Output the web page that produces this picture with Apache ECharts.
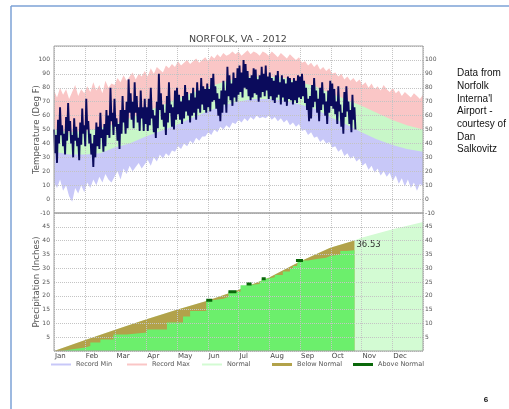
<!DOCTYPE html>
<html><head><meta charset="utf-8">
<script src="https://cdn.jsdelivr.net/npm/echarts@6/dist/echarts.min.js"></script>
<style>html,body{margin:0;padding:0;background:#fff}#c{width:509px;height:409px}</style>
</head><body><div id="c"></div>
<script>
// ---------------- DATA ----------------
const monthLabels = ['Jan','Feb','Mar','Apr','May','Jun','Jul','Aug','Sep','Oct','Nov','Dec'];

// Observed temperature trace (every 2nd day: high on that day, low on the next), deg F
const tempDayStep = 2;
const tempHigh = [
 50,46,57,66,53,47,59,69,56,46,58,52,44,55,65,53,
 72,56,47,40,46,55,52,62,50,54,64,60,80,62,
 72,58,54,64,74,64,70,86,76,70,84,74,66,78,66,72,
 66,72,80,64,60,70,90,76,68,62,74,84,68,66,78,
 80,75,70,74,82,77,71,76,80,73,84,78,87,81,79,
 83,79,87,90,81,76,72,78,85,78,95,89,83,91,87,
 94,96,91,100,97,92,87,89,94,93,86,89,95,90,96,88,
 91,87,85,89,92,84,89,86,83,88,87,84,87,85,89,
 88,90,85,80,72,74,82,87,78,72,80,84,76,70,78,
 85,83,79,70,81,68,62,77,81,70,64,75,66
];
const tempLow = [
 33,26,40,46,38,32,42,49,40,30,42,38,28,39,47,38,
 50,40,32,23,30,38,36,44,34,38,46,44,56,46,
 52,42,36,47,55,47,51,62,57,51,62,55,49,58,49,54,
 49,53,58,48,44,51,64,57,52,46,55,62,52,50,57,
 61,57,54,58,63,60,55,60,62,57,65,62,68,64,62,
 66,63,70,71,65,60,56,62,68,62,74,71,67,73,70,
 75,77,73,80,79,74,71,73,76,75,70,73,77,74,78,72,
 74,71,69,73,75,68,73,70,67,72,71,68,71,69,73,
 72,74,69,64,56,58,66,70,62,56,64,68,60,54,62,
 67,65,61,54,63,52,47,59,63,54,48,57,50
];

// Record high / low through the year (evenly spaced samples), deg F
const recordHigh = [
 78,73,80,75,79,72,77,82,74,79,
 76,81,77,84,78,82,76,85,80,83,
 82,87,84,89,85,88,91,86,90,88,
 92,88,94,90,95,93,91,96,94,97,
 95,99,96,98,100,97,99,101,98,100,
 102,99,103,101,104,102,105,103,104,106,
 104,106,103,105,107,104,106,105,103,106,
 105,103,106,104,102,105,103,101,104,102,
 100,102,98,99,96,98,95,97,93,95,
 92,94,90,91,88,90,86,88,85,87,
 84,86,82,84,80,83,79,81,78,82,
 79,77,80,76,78,74,77,75,73,76,74,72,75
];
const recordLow = [
 12,8,14,6,10,2,-2,8,4,10,
 5,12,8,14,10,16,12,18,14,12,
 16,20,14,22,18,24,20,23,26,22,
 25,28,24,30,27,32,29,33,31,35,
 34,38,36,40,38,42,40,44,42,45,
 45,48,46,50,48,52,50,53,51,55,
 54,57,55,58,56,59,57,60,58,59,
 58,60,57,59,56,58,55,57,53,55,
 52,54,49,50,46,48,44,45,41,43,
 40,41,37,38,34,36,31,33,29,31,
 27,29,24,26,21,24,19,22,17,20,
 16,19,13,17,11,15,9,14,8,12,6,11,9
];

// Normal high / low (day of year)
const normalTempDays = [0,15,31,46,60,75,91,106,121,136,152,167,182,197,213,228,244,259,274,289,305,320,335,350,366];
const normalHigh = [50,48,49,51,54,58,63,67,72,76,80,84,87,88,88,87,84,81,76,72,67,62,57,53,50];
const normalLow  = [34,32,32,33,37,40,45,49,53,58,63,67,70,72,72,71,68,65,59,54,48,43,39,36,34];

// Normal cumulative precipitation (inches)
const precipNormalDays = [0,31,60,91,121,152,182,213,244,274,298,305,335,366];
const precipNormal = [0,4.0,7.6,11.4,14.9,18.2,22.0,26.5,32.4,37.4,40.0,41.0,44.0,46.7];

// Observed cumulative precipitation 2012 (inches)
const precipDays = [0,6,12,18,24,31,36,46,59,72,92,112,128,135,151,157,168,173,185,191,204,206,211,219,227,234,237,241,242,252,262,270,274,284,290,298];
const precipActual = [0,0.3,0.6,0.9,1.3,1.8,3.1,4.2,6.0,6.7,7.8,10.3,12.5,14.5,18.4,18.9,19.6,21.5,23.8,24.3,25.3,26.2,26.7,27.5,28.8,29.8,30.8,31.5,32.8,33.4,33.8,34.4,35.0,36.2,36.53,36.53];

// Periods above normal: [start day, end day, inches]
const aboveNormal = [[151,157,18.4],[173,181,21.5],[191,196,24.3],[206,210,26.2],[240,247,32.8]];

const yearDays = 366;
const dataEndDay = 298;

// ---------------- BUILD ----------------
const tempPoints = [];
tempHigh.forEach((h, i) => {
  tempPoints.push([i * tempDayStep, h]);
  tempPoints.push([i * tempDayStep + 1, tempLow[i]]);
});
const recStep = yearDays / (recordHigh.length - 1);
const recHiPts = recordHigh.map((v, i) => [i * recStep, v]);
const recLoPts = recordLow.map((v, i) => [i * recStep, v]);
const nHiPts = normalHigh.map((v, i) => [normalTempDays[i], v]);
const nLoPts = normalLow.map((v, i) => [normalTempDays[i], v]);
const pNormPts = precipNormal.map((v, i) => [precipNormalDays[i], v]);
const pBelowPts = pNormPts.filter(p => p[0] <= dataEndDay);
const pActPts = precipActual.map((v, i) => [precipDays[i], v]);
const abovePts = [];
aboveNormal.forEach(s => { abovePts.push([s[0], s[2]], [s[1], s[2]], [null, null]); });

const C = {
  pink: '#fac6c6', green: '#c8f7c8', blue: '#c8c8f8', navy: '#0b0b5c',
  pale: '#d3fbd3', bright: '#6cef6c', olive: '#b2a24a', dark: '#0a680a'
};
const FONT = 'DejaVu Sans';
const gridLine = {show: true, lineStyle: {type: 'dotted', color: '#c4c4c4', width: 1}};

function areaSeries(name, data, color, xi, yi, extra) {
  return Object.assign({
    name, type: 'line', data, xAxisIndex: xi, yAxisIndex: yi,
    showSymbol: false, symbol: 'none', silent: true, animation: false,
    color, lineStyle: {width: 0, opacity: 0},
    areaStyle: {color, opacity: 1, origin: 'start'}
  }, extra || {});
}

const chart = echarts.init(document.getElementById('c'));
const legendNames = ['Record Min', 'Record Max', 'Normal', 'Below Normal', 'Above Normal'];
const legendColors = [C.blue, C.pink, C.pale, C.olive, C.dark];
const legendLeft = [51, 127, 202, 272, 353];
const legendThick = [2, 2, 2, 3, 3];

chart.setOption({
  animation: false,
  backgroundColor: '#fff',
  title: {
    text: 'NORFOLK, VA - 2012', left: 189, top: 35, padding: 0,
    textStyle: {fontSize: 9.5, fontWeight: 'normal', color: '#444', fontFamily: FONT}
  },
  grid: [
    {left: 54, right: 86, top: 46, height: 167, show: true, borderColor: '#a0a0a0', borderWidth: 1, z: 13},
    {left: 54, right: 86, top: 213, height: 138, show: true, borderColor: '#a0a0a0', borderWidth: 1, z: 13}
  ],
  xAxis: [
    {gridIndex: 0, type: 'value', min: 0, max: yearDays, interval: 30.5, z: 10,
     axisLabel: {show: false}, axisLine: {show: false}, axisTick: {show: false}, splitLine: gridLine},
    {gridIndex: 1, type: 'value', min: 0, max: yearDays, interval: 30.5, z: 10,
     axisLine: {show: false}, axisTick: {show: false}, splitLine: gridLine,
     axisLabel: {show: true, margin: 2, align: 'left', fontSize: 7, color: '#444', fontFamily: FONT,
       formatter: v => monthLabels[Math.round(v / 30.5)] || '', padding: [0, 0, 0, 1]}}
  ],
  yAxis: [
    {gridIndex: 0, type: 'value', min: -10, max: 110, interval: 10, position: 'left', z: 10,
     axisLine: {show: false}, axisTick: {show: false}, splitLine: gridLine,
     axisLabel: {margin: 4, fontSize: 6, color: '#555', fontFamily: FONT, formatter: v => v > 100 ? '' : v}},
    {gridIndex: 0, type: 'value', min: -10, max: 110, interval: 10, position: 'right', z: 10,
     axisLine: {show: false}, axisTick: {show: false}, splitLine: {show: false},
     axisLabel: {margin: 2, fontSize: 6, color: '#555', fontFamily: FONT, formatter: v => v > 100 ? '' : v}},
    {gridIndex: 1, type: 'value', min: 0, max: 50, interval: 5, position: 'left', z: 10,
     axisLine: {show: false}, axisTick: {show: false}, splitLine: gridLine,
     axisLabel: {margin: 4, fontSize: 6, color: '#555', fontFamily: FONT, formatter: v => (v === 0 || v === 50) ? '' : v}},
    {gridIndex: 1, type: 'value', min: 0, max: 50, interval: 5, position: 'right', z: 10,
     axisLine: {show: false}, axisTick: {show: false}, splitLine: {show: false},
     axisLabel: {margin: 2, fontSize: 6, color: '#555', fontFamily: FONT, formatter: v => (v === 0 || v === 50) ? '' : v}}
  ],
  legend: legendNames.map((name, k) => ({
    data: [{name, itemStyle: {color: legendColors[k]}}],
    left: legendLeft[k], top: 361, padding: 0, selectedMode: false,
    icon: 'rect', itemWidth: 20, itemHeight: legendThick[k],
    textStyle: {fontSize: 6.5, color: '#555', fontFamily: FONT}
  })),
  series: [
    areaSeries('Record Max', recHiPts, C.pink, 0, 0),
    areaSeries('Normal', nHiPts, C.green, 0, 0),
    areaSeries('Record Min', nLoPts, C.blue, 0, 0),
    areaSeries('base', recLoPts, '#ffffff', 0, 0),
    {name: 'Temperature', type: 'line', data: tempPoints, xAxisIndex: 0, yAxisIndex: 0, z: 12,
     showSymbol: false, symbol: 'none', silent: true, color: C.navy,
     lineStyle: {width: 1.9, color: C.navy}},
    areaSeries('Normal', pNormPts, C.pale, 1, 2),
    areaSeries('Below Normal', pBelowPts, C.olive, 1, 2),
    areaSeries('Precipitation', pActPts, C.bright, 1, 2, {
      step: 'end',
      endLabel: {show: true, distance: 2, offset: [0, -5], formatter: p => p.value[1].toFixed(2),
                 fontSize: 8.5, color: '#333', fontFamily: FONT}
    }),
    {name: 'Above Normal', type: 'line', data: abovePts, xAxisIndex: 1, yAxisIndex: 2, z: 12,
     showSymbol: false, symbol: 'none', silent: true, connectNulls: false, color: C.dark,
     lineStyle: {width: 3, color: C.dark}}
  ],
  graphic: [
    {type: 'line', shape: {x1: 11, y1: 6, x2: 11, y2: 409}, style: {stroke: '#7ca2d6', lineWidth: 1.5}},
    {type: 'line', shape: {x1: 11, y1: 6, x2: 509, y2: 6}, style: {stroke: '#7ca2d6', lineWidth: 1.5}},
    {type: 'text', x: 37, y: 129.5, rotation: Math.PI / 2,
     style: {text: 'Temperature (Deg F)', textAlign: 'center', textVerticalAlign: 'middle',
             fontSize: 8.6, fontFamily: FONT, fill: '#555'}},
    {type: 'text', x: 37, y: 282, rotation: Math.PI / 2,
     style: {text: 'Precipitation (Inches)', textAlign: 'center', textVerticalAlign: 'middle',
             fontSize: 8.6, fontFamily: FONT, fill: '#555'}},
    {type: 'text', x: 457, y: 67,
     style: {text: "Data from\nNorfolk\nInterna'l\nAirport -\ncourtesy of\nDan\nSalkovitz",
             fontSize: 10, fontFamily: 'Liberation Sans', lineHeight: 12.7, fill: '#111', textVerticalAlign: 'top'}},
    {type: 'text', x: 486, y: 400,
     style: {text: '6', fontSize: 8, fontWeight: 'bold', fontFamily: 'Liberation Sans', fill: '#111',
             textAlign: 'center', textVerticalAlign: 'middle'}}
  ]
});
</script></body></html>
